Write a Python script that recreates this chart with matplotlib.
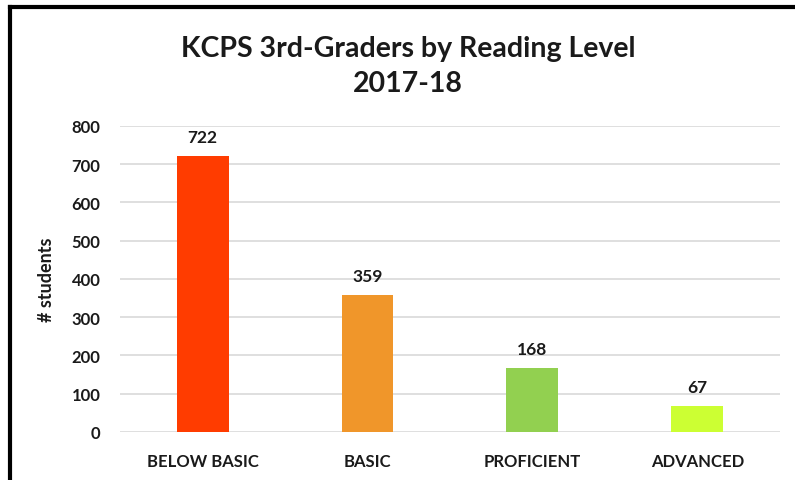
import matplotlib.pyplot as plt
from matplotlib.lines import Line2D

levels = ['BELOW BASIC', 'BASIC', 'PROFICIENT', 'ADVANCED']
students = [722, 359, 168, 67]
colores = ['#FF3C00', '#F0962A', '#92D050', '#CCFF33']

plt.rcParams['font.family'] = ['Lato', 'DejaVu Sans']

fig = plt.figure(figsize=(7.95, 4.81), dpi=100)
ax = fig.add_axes([0.151, 0.0998, 0.830, 0.6362])

x = range(len(levels))
barras = ax.bar(x, students, width=0.315, color=colores, zorder=3)
for b, v in zip(barras, students):
    ax.annotate(str(v), (b.get_x() + b.get_width() / 2, v), xytext=(0, 8),
                textcoords='offset points', ha='center', va='bottom',
                fontsize=12.5, fontweight='bold', color='#1a1a1a')

ax.set_xlim(-0.5, len(levels) - 0.5)
ax.set_ylim(0, 800)
ax.set_yticks(range(0, 801, 100))
ax.set_xticks(list(x))
ax.set_xticklabels(levels)
ax.yaxis.grid(True, color='#d9d9d9', linewidth=1.2, zorder=0)
for s in ax.spines.values():
    s.set_visible(False)
ax.tick_params(length=0, labelsize=12, colors='#1a1a1a')
for lbl in ax.get_xticklabels() + ax.get_yticklabels():
    lbl.set_fontweight('bold')
ax.tick_params(axis='x', pad=15)
ax.tick_params(axis='y', pad=14)
ax.set_ylabel('# students', fontsize=13, fontweight='bold', color='#1a1a1a', labelpad=12)

fig.text(0.513, 0.862, 'KCPS 3rd-Graders by Reading Level\n2017-18', ha='center', va='center',
         fontsize=20.5, fontweight='bold', color='#1a1a1a', linespacing=1.42)

# marco negro arriba e izquierda
fig.add_artist(Line2D([0.0132, 1.0], [0.984, 0.984], color='black', linewidth=3))
fig.add_artist(Line2D([0.0132, 0.0132], [0.984, 0.0], color='black', linewidth=3))

fig.savefig('out.png', dpi=100)
